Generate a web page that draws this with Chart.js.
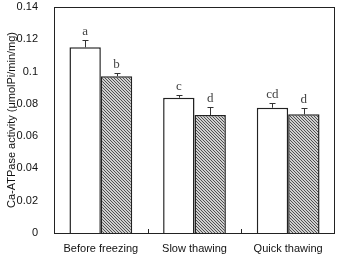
<!DOCTYPE html>
<html>
<head>
<meta charset="UTF-8">
<script src="https://cdn.jsdelivr.net/npm/chart.js"></script>
<style>
  body { margin: 0; background: #fff; }
  #wrap { width: 338px; height: 255px; }
</style>
</head>
<body>
<div id="wrap"><canvas id="c"></canvas></div>
<script>
const categories = ['Before freezing', 'Slow thawing', 'Quick thawing'];
const freshVals = [0.115, 0.0838, 0.0776];
const frozenVals = [0.0971, 0.0731, 0.0735];
const freshErr = [0.0044, 0.0017, 0.0027];
const frozenErr = [0.0019, 0.0048, 0.0037];
const freshLetters = ['a', 'c', 'cd'];
const frozenLetters = ['b', 'd', 'd'];
const yTicks = [0, 0.02, 0.04, 0.06, 0.08, 0.1, 0.12, 0.14];

// hatch pattern for the second series
function hatch() {
  const p = document.createElement('canvas');
  p.width = 3; p.height = 3;
  const g = p.getContext('2d');
  g.fillStyle = '#cfcfcf';
  g.fillRect(0, 0, 3, 3);
  g.fillStyle = '#505050';
  for (let i = 0; i < 3; i++) g.fillRect(i, i, 1, 1);
  return document.getElementById('c').getContext('2d').createPattern(p, 'repeat');
}

const extras = {
  id: 'extras',
  afterDatasetsDraw(chart) {
    const ctx = chart.ctx;
    const y = chart.scales.y, x = chart.scales.x;
    const a = chart.chartArea;
    ctx.save();
    const errs = [freshErr, frozenErr];
    const letters = [freshLetters, frozenLetters];
    const vals = [freshVals, frozenVals];
    chart.data.datasets.forEach((ds, di) => {
      chart.getDatasetMeta(di).data.forEach((el, i) => {
        const top = Math.round(y.getPixelForValue(vals[di][i] + errs[di][i])) + 0.5;
        const cx = Math.round(el.x) + 0.5;
        ctx.strokeStyle = '#333';
        ctx.lineWidth = 1;
        ctx.beginPath();
        ctx.moveTo(cx, el.y);
        ctx.lineTo(cx, top);
        ctx.moveTo(cx - 3, top);
        ctx.lineTo(cx + 3, top);
        ctx.stroke();
        ctx.fillStyle = '#444';
        ctx.font = '13px "Liberation Serif", "DejaVu Serif", serif';
        ctx.textAlign = 'center';
        ctx.textBaseline = 'alphabetic';
        ctx.fillText(letters[di][i], el.x, top - 6);
      });
    });
    // box
    ctx.strokeStyle = '#222';
    ctx.lineWidth = 1;
    ctx.strokeRect(a.left + 0.5, a.top + 0.5, a.right - a.left - 1, a.bottom - a.top);
    // inward ticks between categories
    ctx.beginPath();
    for (let i = 0; i < categories.length - 1; i++) {
      const px = Math.round(x.getPixelForValue(i + 0.5)) + 0.5;
      ctx.moveTo(px, a.bottom);
      ctx.lineTo(px, a.bottom - 4);
    }
    ctx.stroke();
    ctx.restore();
  }
};

new Chart(document.getElementById('c'), {
  type: 'bar',
  data: {
    labels: categories,
    datasets: [
      { data: freshVals, backgroundColor: '#fff', borderColor: '#222', borderWidth: 1.5, borderSkipped: 'bottom' },
      { data: frozenVals, backgroundColor: hatch(), borderColor: '#222', borderWidth: 1.5, borderSkipped: 'bottom' }
    ]
  },
  options: {
    responsive: true,
    maintainAspectRatio: false,
    animation: false,
    layout: { padding: { left: 0, right: 3, top: 7, bottom: 0 } },
    plugins: { legend: { display: false }, tooltip: { enabled: false } },
    datasets: { bar: { categoryPercentage: 0.67, barPercentage: 1.0 } },
    scales: {
      x: {
        grid: { display: false, drawTicks: false },
        border: { display: false },
        ticks: { color: '#111', font: { family: 'Liberation Sans, Arial, sans-serif', size: 11 }, padding: 9, maxRotation: 0 },
        afterFit(s) { s.height = 22; s.paddingLeft = 0; s.paddingRight = 0; }
      },
      y: {
        min: 0, max: 0.14,
        afterBuildTicks(s) { s.ticks = yTicks.map(v => ({ value: v })); },
        grid: { display: false },
        border: { display: false },
        ticks: {
          color: '#111', padding: 8,
          font: { family: 'Liberation Sans, Arial, sans-serif', size: 11 },
          callback: v => String(+v.toFixed(2))
        },
        title: {
          display: true,
          text: 'Ca-ATPase activity (μmolPi/min/mg)',
          color: '#111',
          font: { family: 'Liberation Sans, Arial, sans-serif', size: 11 },
          padding: { top: 5, bottom: 0 }
        },
        afterFit(s) { s.width = 54; s.paddingTop = 0; s.paddingBottom = 0; }
      }
    }
  },
  plugins: [extras]
});
</script>
</body>
</html>
